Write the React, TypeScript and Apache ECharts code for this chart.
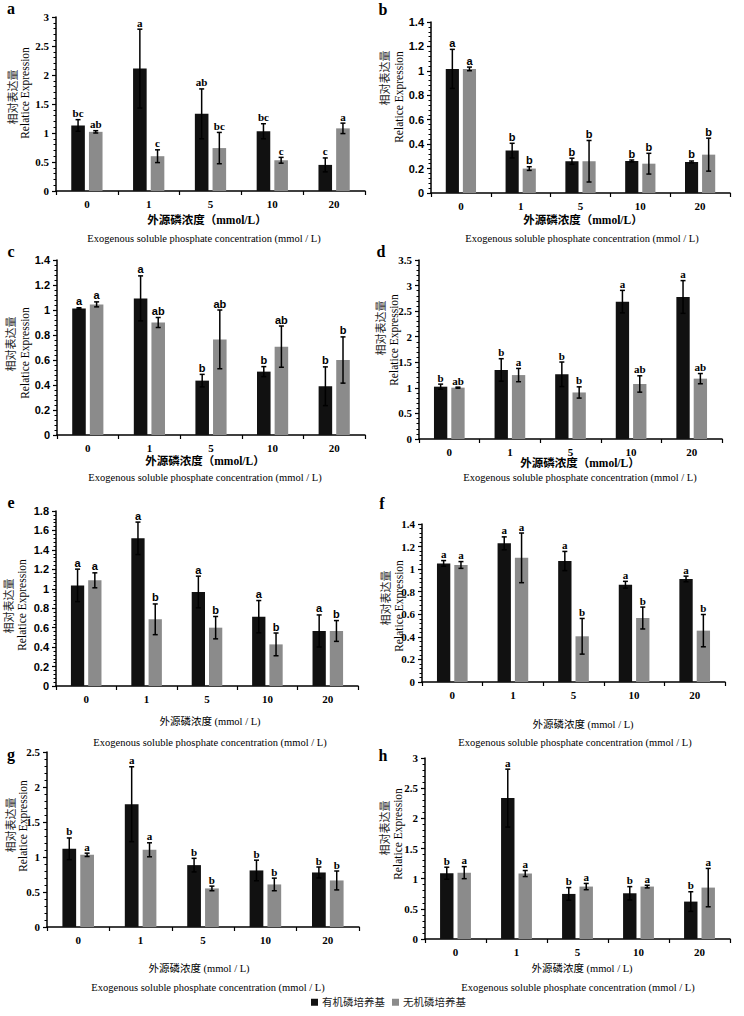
import React, { useEffect, useRef } from "react";
import * as echarts from "echarts";

// ---------- data ----------
const categories = ["0", "1", "5", "10", "20"];
const legendNames = ["有机磷培养基", "无机磷培养基"];

const aOrganic = [1.13, 2.11, 1.33, 1.03, 0.45];
const aOrganicErr = [0.1, 0.68, 0.43, 0.13, 0.12];
const aInorganic = [1.02, 0.6, 0.74, 0.53, 1.08];
const aInorganicErr = [0.02, 0.11, 0.27, 0.05, 0.09];
const aOrganicLetters = ["bc", "a", "ab", "bc", "c"];
const aInorganicLetters = ["ab", "c", "bc", "c", "a"];

const bOrganic = [1.016, 0.347, 0.26, 0.262, 0.254];
const bOrganicErr = [0.16, 0.06, 0.025, 0.008, 0.008];
const bInorganic = [1.016, 0.2, 0.26, 0.24, 0.314];
const bInorganicErr = [0.015, 0.015, 0.17, 0.085, 0.135];
const bOrganicLetters = ["a", "b", "b", "b", "b"];
const bInorganicLetters = ["a", "b", "b", "b", "b"];

const cOrganic = [1.013, 1.093, 0.435, 0.507, 0.39];
const cOrganicErr = [0.005, 0.18, 0.05, 0.04, 0.155];
const cInorganic = [1.045, 0.9, 0.765, 0.707, 0.6];
const cInorganicErr = [0.02, 0.04, 0.235, 0.165, 0.185];
const cOrganicLetters = ["a", "a", "b", "b", "b"];
const cInorganicLetters = ["a", "ab", "ab", "ab", "b"];

const dOrganic = [1.023, 1.35, 1.265, 2.686, 2.777];
const dOrganicErr = [0.05, 0.22, 0.24, 0.22, 0.32];
const dInorganic = [1.004, 1.25, 0.91, 1.076, 1.18];
const dInorganicErr = [0.01, 0.13, 0.11, 0.16, 0.1];
const dOrganicLetters = ["b", "b", "b", "a", "a"];
const dInorganicLetters = ["ab", "a", "b", "ab", "ab"];

const eOrganic = [1.035, 1.519, 0.967, 0.713, 0.566];
const eOrganicErr = [0.167, 0.167, 0.163, 0.166, 0.165];
const eInorganic = [1.087, 0.686, 0.6, 0.428, 0.566];
const eInorganicErr = [0.077, 0.158, 0.115, 0.117, 0.107];
const eOrganicLetters = ["a", "a", "a", "a", "a"];
const eInorganicLetters = ["a", "b", "b", "b", "b"];

const fOrganic = [1.051, 1.229, 1.072, 0.862, 0.913];
const fOrganicErr = [0.025, 0.057, 0.085, 0.03, 0.025];
const fInorganic = [1.037, 1.1, 0.405, 0.567, 0.455];
const fInorganicErr = [0.03, 0.22, 0.158, 0.097, 0.143];
const fOrganicLetters = ["a", "a", "a", "a", "a"];
const fInorganicLetters = ["a", "a", "b", "b", "b"];

const gOrganic = [1.117, 1.754, 0.884, 0.808, 0.779];
const gOrganicErr = [0.155, 0.535, 0.097, 0.147, 0.078];
const gInorganic = [1.031, 1.103, 0.551, 0.608, 0.665];
const gInorganicErr = [0.024, 0.1, 0.033, 0.09, 0.135];
const gOrganicLetters = ["b", "a", "b", "b", "b"];
const gInorganicLetters = ["a", "a", "b", "b", "b"];

const hOrganic = [1.09, 2.335, 0.747, 0.758, 0.62];
const hOrganicErr = [0.1, 0.48, 0.105, 0.11, 0.163];
const hInorganic = [1.1, 1.085, 0.869, 0.869, 0.852];
const hInorganicErr = [0.1, 0.05, 0.052, 0.022, 0.318];
const hOrganicLetters = ["b", "a", "b", "b", "b"];
const hInorganicLetters = ["a", "a", "a", "a", "a"];

const axisMax = [3, 1.4, 1.4, 3.5, 1.8, 1.4, 2.5, 3];
const axisInterval = [0.5, 0.2, 0.2, 0.5, 0.2, 0.2, 0.5, 0.5];

const yTitleCn = "相对表达量";
const yTitleEn = "Relatice Expression";
const xTitleCnBold = "外源磷浓度（mmol/L）";
const xTitleCnPlain = "外源磷浓度 (mmol / L)";
const xTitleEn = "Exogenous soluble phosphate concentration (mmol / L)";

// ---------- styles / layout ----------
const SERIF = '"Liberation Serif", "Times New Roman", serif';
const SANS = '"Liberation Sans", Arial, sans-serif';
const CJK = '"Liberation Serif", "Noto Sans CJK SC", serif';
const BLACK = "#111111";
const GRAY = "#8b8b8b";
const BAR_FRAC = 0.22;
const GAP_FRAC = 0.3;

const panels = [
  { key: "a", org: aOrganic, orgErr: aOrganicErr, inorg: aInorganic, inorgErr: aInorganicErr, orgL: aOrganicLetters, inorgL: aInorganicLetters,
    grid: { left: 56, top: 17, width: 309, height: 174 }, yFont: SERIF, lFont: SERIF, label: [11, 8],
    cn: [13, 97], en: [25, 93], xcn: [207, 220], xcnBold: true, xen: [204, 238] },
  { key: "b", org: bOrganic, orgErr: bOrganicErr, inorg: bInorganic, inorgErr: bInorganicErr, orgL: bOrganicLetters, inorgL: bInorganicLetters,
    grid: { left: 431, top: 22, width: 299, height: 171 }, yFont: SANS, lFont: SANS, label: [383, 9],
    cn: [385, 78], en: [399, 97], xcn: [583, 220], xcnBold: true, xen: [582, 238] },
  { key: "c", org: cOrganic, orgErr: cOrganicErr, inorg: cInorganic, inorgErr: cInorganicErr, orgL: cOrganicLetters, inorgL: cInorganicLetters,
    grid: { left: 57, top: 260, width: 308, height: 175 }, yFont: SANS, lFont: SANS, label: [11, 251],
    cn: [11, 344], en: [25, 353], xcn: [205, 461], xcnBold: true, xen: [205, 477] },
  { key: "d", org: dOrganic, orgErr: dOrganicErr, inorg: dInorganic, inorgErr: dInorganicErr, orgL: dOrganicLetters, inorgL: dInorganicLetters,
    grid: { left: 419, top: 260, width: 303, height: 179 }, yFont: SERIF, lFont: SERIF, label: [381, 251],
    cn: [381, 328], en: [394, 340], xcn: [580, 463], xcnBold: true, xen: [580, 477] },
  { key: "e", org: eOrganic, orgErr: eOrganicErr, inorg: eInorganic, inorgErr: eInorganicErr, orgL: eOrganicLetters, inorgL: eInorganicLetters,
    grid: { left: 56, top: 511, width: 302, height: 175 }, yFont: SANS, lFont: SANS, label: [11, 502],
    cn: [9, 606], en: [22, 605], xcn: [210, 721], xcnBold: false, xen: [210, 742] },
  { key: "f", org: fOrganic, orgErr: fOrganicErr, inorg: fInorganic, inorgErr: fInorganicErr, orgL: fOrganicLetters, inorgL: fInorganicLetters,
    grid: { left: 422, top: 524, width: 303, height: 158 }, yFont: SERIF, lFont: SERIF, label: [382, 503],
    cn: [386, 598], en: [399, 606], xcn: [583, 724], xcnBold: false, xen: [575, 742] },
  { key: "g", org: gOrganic, orgErr: gOrganicErr, inorg: gInorganic, inorgErr: gInorganicErr, orgL: gOrganicLetters, inorgL: gInorganicLetters,
    grid: { left: 47, top: 752, width: 312, height: 175 }, yFont: SERIF, lFont: SERIF, label: [11, 754],
    cn: [11, 825], en: [23, 826], xcn: [199, 968], xcnBold: false, xen: [208, 987] },
  { key: "h", org: hOrganic, orgErr: hOrganicErr, inorg: hInorganic, inorgErr: hInorganicErr, orgL: hOrganicLetters, inorgL: hInorganicLetters,
    grid: { left: 425, top: 758, width: 305, height: 181 }, yFont: SERIF, lFont: SERIF, label: [383, 755],
    cn: [385, 828], en: [398, 834], xcn: [582, 968], xcnBold: false, xen: [578, 987] },
];

function errSeries(i: number, values: number[], errs: number[], letters: string[], side: number, lFont: string) {
  return {
    type: "custom",
    xAxisIndex: i,
    yAxisIndex: i,
    z: 10,
    silent: true,
    data: values.map((v, k) => [k, v, errs[k]]),
    renderItem: (params: any, api: any) => {
      const idx = api.value(0);
      const v = api.value(1);
      const e = api.value(2);
      const c = api.coord([idx, v]);
      const band = api.size([1, 0])[0];
      const w = band * BAR_FRAC;
      const x = c[0] + (side * (w * (1 + GAP_FRAC))) / 2;
      const yt = api.coord([idx, v + e])[1];
      const yb = api.coord([idx, v - e])[1];
      const cap = 2.5;
      const st = { stroke: "#000", lineWidth: 1.5 };
      return {
        type: "group",
        children: [
          { type: "line", shape: { x1: x, y1: yt, x2: x, y2: yb }, style: st },
          { type: "line", shape: { x1: x - cap, y1: yt, x2: x + cap, y2: yt }, style: st },
          { type: "line", shape: { x1: x - cap, y1: yb, x2: x + cap, y2: yb }, style: st },
          {
            type: "text",
            x: x,
            y: yt - 1,
            style: {
              text: letters[params.dataIndex],
              fill: "#000",
              fontFamily: lFont,
              fontWeight: "bold",
              fontSize: 11,
              align: "center",
              verticalAlign: "bottom",
            },
          },
        ],
      };
    },
  };
}

function buildOption() {
  const grids: any[] = [];
  const xAxes: any[] = [];
  const yAxes: any[] = [];
  const series: any[] = [];
  const graphics: any[] = [];

  panels.forEach((p, i) => {
    grids.push({ ...p.grid, containLabel: false });
    xAxes.push({
      gridIndex: i,
      type: "category",
      data: categories,
      axisLine: { show: true, lineStyle: { color: "#000", width: 1.5 } },
      axisTick: { show: true, length: 4, lineStyle: { color: "#000", width: 1.2 } },
      axisLabel: { color: "#000", fontFamily: SERIF, fontWeight: "bold", fontSize: 11, margin: 7 },
      splitLine: { show: false },
    });
    yAxes.push({
      gridIndex: i,
      type: "value",
      min: 0,
      max: axisMax[i],
      interval: axisInterval[i],
      axisLine: { show: true, lineStyle: { color: "#000", width: 1.5 } },
      axisTick: { show: true, length: 4, lineStyle: { color: "#000", width: 1.2 } },
      minorTick: { show: true, splitNumber: 5, length: 2.5, lineStyle: { color: "#000", width: 1 } },
      splitLine: { show: false },
      axisLabel: { color: "#000", fontFamily: p.yFont, fontWeight: "bold", fontSize: 11, margin: 7 },
    });
    series.push({
      type: "bar",
      name: legendNames[0],
      xAxisIndex: i,
      yAxisIndex: i,
      data: p.org,
      barWidth: BAR_FRAC * 100 + "%",
      barGap: GAP_FRAC * 100 + "%",
      itemStyle: { color: BLACK },
    });
    series.push({
      type: "bar",
      name: legendNames[1],
      xAxisIndex: i,
      yAxisIndex: i,
      data: p.inorg,
      barWidth: BAR_FRAC * 100 + "%",
      barGap: GAP_FRAC * 100 + "%",
      itemStyle: { color: GRAY },
    });
    series.push(errSeries(i, p.org, p.orgErr, p.orgL, -1, p.lFont));
    series.push(errSeries(i, p.inorg, p.inorgErr, p.inorgL, 1, p.lFont));

    graphics.push({
      type: "text",
      x: p.label[0],
      y: p.label[1],
      style: { text: p.key, fill: "#000", fontFamily: SERIF, fontWeight: "bold", fontSize: 16, align: "center", verticalAlign: "middle" },
    });
    graphics.push({
      type: "text",
      x: p.cn[0],
      y: p.cn[1],
      rotation: Math.PI / 2,
      style: { text: yTitleCn, fill: "#222", fontFamily: CJK, fontSize: 11, align: "center", verticalAlign: "middle" },
    });
    graphics.push({
      type: "text",
      x: p.en[0],
      y: p.en[1],
      rotation: Math.PI / 2,
      style: { text: yTitleEn, fill: "#000", fontFamily: SERIF, fontSize: 11.5, align: "center", verticalAlign: "middle" },
    });
    graphics.push({
      type: "text",
      x: p.xcn[0],
      y: p.xcn[1],
      style: {
        text: p.xcnBold ? xTitleCnBold : xTitleCnPlain,
        fill: "#000",
        fontFamily: CJK,
        fontWeight: p.xcnBold ? "bold" : "normal",
        fontSize: p.xcnBold ? 11.5 : 10.5,
        align: "center",
        verticalAlign: "middle",
      },
    });
    graphics.push({
      type: "text",
      x: p.xen[0],
      y: p.xen[1],
      style: { text: xTitleEn, fill: "#000", fontFamily: SERIF, fontSize: 10.5, align: "center", verticalAlign: "middle" },
    });
  });

  return {
    animation: false,
    backgroundColor: "#fff",
    grid: grids,
    xAxis: xAxes,
    yAxis: yAxes,
    series,
    graphic: graphics,
    legend: {
      data: legendNames,
      left: 311,
      top: 997,
      padding: 0,
      icon: "rect",
      itemWidth: 7,
      itemHeight: 7,
      itemGap: 7,
      selectedMode: false,
      textStyle: { color: "#222", fontFamily: CJK, fontSize: 10.5, padding: [0, 0, 0, -1] },
    },
  };
}

export default function App() {
  const ref = useRef<HTMLDivElement>(null);
  useEffect(() => {
    if (!ref.current) return;
    const chart = echarts.init(ref.current, undefined, { renderer: "svg" });
    chart.setOption(buildOption() as any);
    return () => chart.dispose();
  }, []);
  return (
    <div
      ref={ref}
      style={{ position: "fixed", left: 0, top: 0, width: 744, height: 1016, background: "#fff" }}
    />
  );
}
